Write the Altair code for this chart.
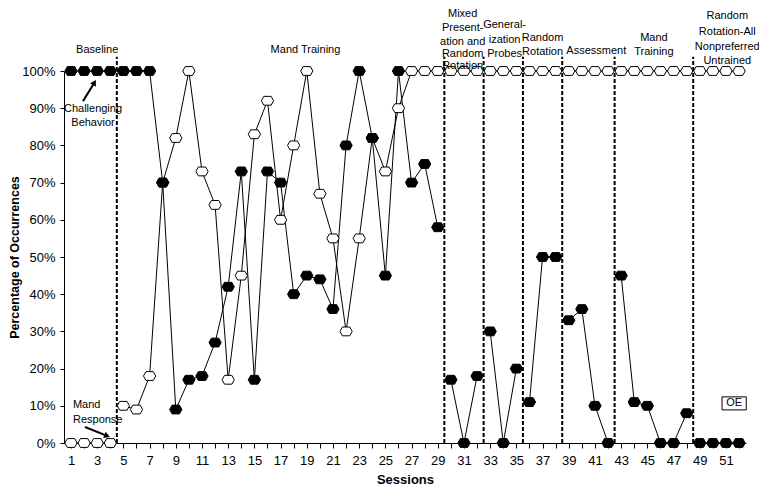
import altair as alt
import pandas as pd

FONT = "Liberation Sans"

# ---- data ----
sessions = list(range(1, 53))
challenging = [100, 100, 100, 100,
               100, 100, 100, 70, 9, 17, 18, 27, 42, 73, 17, 73, 70, 40, 45, 44, 36, 80, 100, 82, 45, 100, 70, 75, 58,
               17, 0, 18,
               30, 0, 20,
               11, 50, 50,
               33, 36, 10, 0,
               45, 11, 10, 0, 0, 8,
               0, 0, 0, 0]
mand = [0, 0, 0, 0,
        10, 9, 18, 70, 82, 100, 73, 64, 17, 45, 83, 92, 60, 80, 100, 67, 55, 30, 55, 82, 73, 90, 100, 100, 100,
        100, 100, 100,
        100, 100, 100,
        100, 100, 100,
        100, 100, 100, 100,
        100, 100, 100, 100, 100, 100,
        100, 100, 100, 100]
phase_changes = [4.5, 29.5, 32.5, 35.5, 38.5, 42.5, 48.5]
y_ticks = [0, 10, 20, 30, 40, 50, 60, 70, 80, 90, 100]

# phase titles (text, session position, height in % units above the plot)
phase_text = ["Baseline", "Mand Training",
              "Mixed", "Present-", "ation and", "Random", "Rotation",
              "General-", "ization", "Probes",
              "Random", "Rotation",
              "Assessment",
              "Mand", "Training",
              "Random", "Rotation-All", "Nonpreferred", "Untrained"]
phase_text_x = [3.0, 18.9,
                30.9, 30.9, 30.9, 30.9, 30.9,
                34.1, 34.1, 34.1,
                37.0, 37.0,
                41.1,
                45.5, 45.5,
                51.1, 51.1, 51.1, 51.1]
phase_text_y = [105.6, 105.6,
                115.3, 111.6, 107.9, 104.5, 101.3,
                112.4, 108.3, 104.6,
                108.9, 105.1,
                105.4,
                108.9, 105.1,
                114.8, 110.5, 106.5, 102.7]

def phase_of(s):
    return sum(1 for b in phase_changes if s > b)

rows = []
for s, c, m in zip(sessions, challenging, mand):
    rows.append({"session": s, "value": c, "series": "Challenging Behavior", "phase": phase_of(s)})
    rows.append({"session": s, "value": m, "series": "Mand Response", "phase": phase_of(s)})
df = pd.DataFrame(rows)

xscale = alt.Scale(domain=[0.466, 52.53], nice=False, zero=False)
yscale = alt.Scale(domain=[0, 100], nice=False, zero=True)

x_axis = alt.Axis(values=sessions,
                  labelExpr="datum.value % 2 == 1 ? datum.label : ''",
                  tickSize=5, grid=False, title="Sessions",
                  labelFontSize=13, titleFontSize=13, titleFontWeight="bold",
                  labelPadding=6, titlePadding=6,
                  labelFlush=False, labelOverlap=False,
                  labelFont=FONT, titleFont=FONT)
y_axis = alt.Axis(values=y_ticks,
                  labelExpr="datum.value + '%'",
                  tickSize=4, grid=False, title="Percentage of Occurrences",
                  labelFontSize=13, titleFontSize=12.5, titleFontWeight="bold",
                  labelPadding=5, titlePadding=0,
                  labelFont=FONT, titleFont=FONT)

def X(field="session"):
    return alt.X(f"{field}:Q", scale=xscale, axis=x_axis)

def Y(field="value"):
    return alt.Y(f"{field}:Q", scale=yscale, axis=y_axis)

MARKER = "M -1 0 L -0.6 -0.72 L 0.6 -0.72 L 1 0 L 0.6 0.72 L -0.6 0.72 Z"

base = alt.Chart(df)

lines = base.mark_line(color="black", strokeWidth=1).encode(
    x=X(), y=Y(),
    detail=[alt.Detail("series:N"), alt.Detail("phase:N")],
    order="session:Q",
)

open_pts = base.transform_filter(alt.datum.series == "Mand Response").mark_point(
    shape=MARKER, filled=True, fill="white", stroke="black", strokeWidth=1, size=150, opacity=1
).encode(x=X(), y=Y())

filled_pts = base.transform_filter(alt.datum.series == "Challenging Behavior").mark_point(
    shape=MARKER, filled=True, fill="black", stroke="black", strokeWidth=1, size=150, opacity=1
).encode(x=X(), y=Y())

rules = alt.Chart(pd.DataFrame({"session": phase_changes, "value": [0] * 7, "top": [103.8] * 7})).mark_rule(
    color="black", strokeWidth=2, strokeDash=[4, 2]
).encode(x=X(), y=Y(), y2="top:Q")

phase_labels = alt.Chart(pd.DataFrame({"session": phase_text_x, "value": phase_text_y, "t": phase_text})).mark_text(
    font=FONT, fontSize=11, color="black", align="center", baseline="middle"
).encode(x=X(), y=Y(), text="t:N")

# annotations
ann_text = ["Challenging", "Behavior", "Mand", "Response"]
ann_x = [2.68, 2.68, 1.15, 1.15]
ann_y = [89.8, 86.0, 10.2, 6.3]
ann_align = ["center", "center", "left", "left"]
ann_df = pd.DataFrame({"session": ann_x, "value": ann_y, "t": ann_text, "al": ann_align})
ann_center = alt.Chart(ann_df[ann_df.al == "center"]).mark_text(
    font=FONT, fontSize=11, color="black", align="center", baseline="middle"
).encode(x=X(), y=Y(), text="t:N")
ann_left = alt.Chart(ann_df[ann_df.al == "left"]).mark_text(
    font=FONT, fontSize=11, color="black", align="left", baseline="middle"
).encode(x=X(), y=Y(), text="t:N")

arrow_df = pd.DataFrame({
    "session": [1.92, 2.07], "value": [91.9, 4.3],
    "session2": [2.79, 3.76], "value2": [96.9, 1.9],
    "ang": [30, 112],
})
arrow_lines = alt.Chart(arrow_df).mark_rule(color="black", strokeWidth=2).encode(
    x=X(), y=Y(), x2="session2:Q", y2="value2:Q")
arrow_heads = alt.Chart(arrow_df).mark_point(
    shape="triangle-up", filled=True, color="black", size=45, opacity=1
).encode(x=X("session2"), y=Y("value2"), angle=alt.Angle("ang:Q", scale=None))

oe_df = pd.DataFrame({"session": [50.7], "session2": [52.55], "value": [8.9], "value2": [12.4],
                      "cx": [51.62], "cy": [10.65], "t": ["OE"]})
oe_box = alt.Chart(oe_df).mark_rect(fill="white", stroke="black", strokeWidth=1).encode(
    x=X(), x2="session2:Q", y=Y(), y2="value2:Q")
oe_text = alt.Chart(oe_df).mark_text(font=FONT, fontSize=11, color="black", baseline="middle").encode(
    x=X("cx"), y=Y("cy"), text="t:N")

chart = alt.layer(
    lines, rules, open_pts, filled_pts, phase_labels, ann_center, ann_left,
    arrow_lines, arrow_heads, oe_box, oe_text
).properties(
    width=682, height=372,
    autosize=alt.AutoSizeParams(type="none"),
    padding={"left": 56, "top": 63, "right": 13, "bottom": 42},
).configure_view(stroke=None).configure_axis(
    domainColor="black", tickColor="black", labelColor="black", titleColor="black", domainWidth=1
)

chart.save("out.html", embed_options={"renderer": "svg", "actions": False})
